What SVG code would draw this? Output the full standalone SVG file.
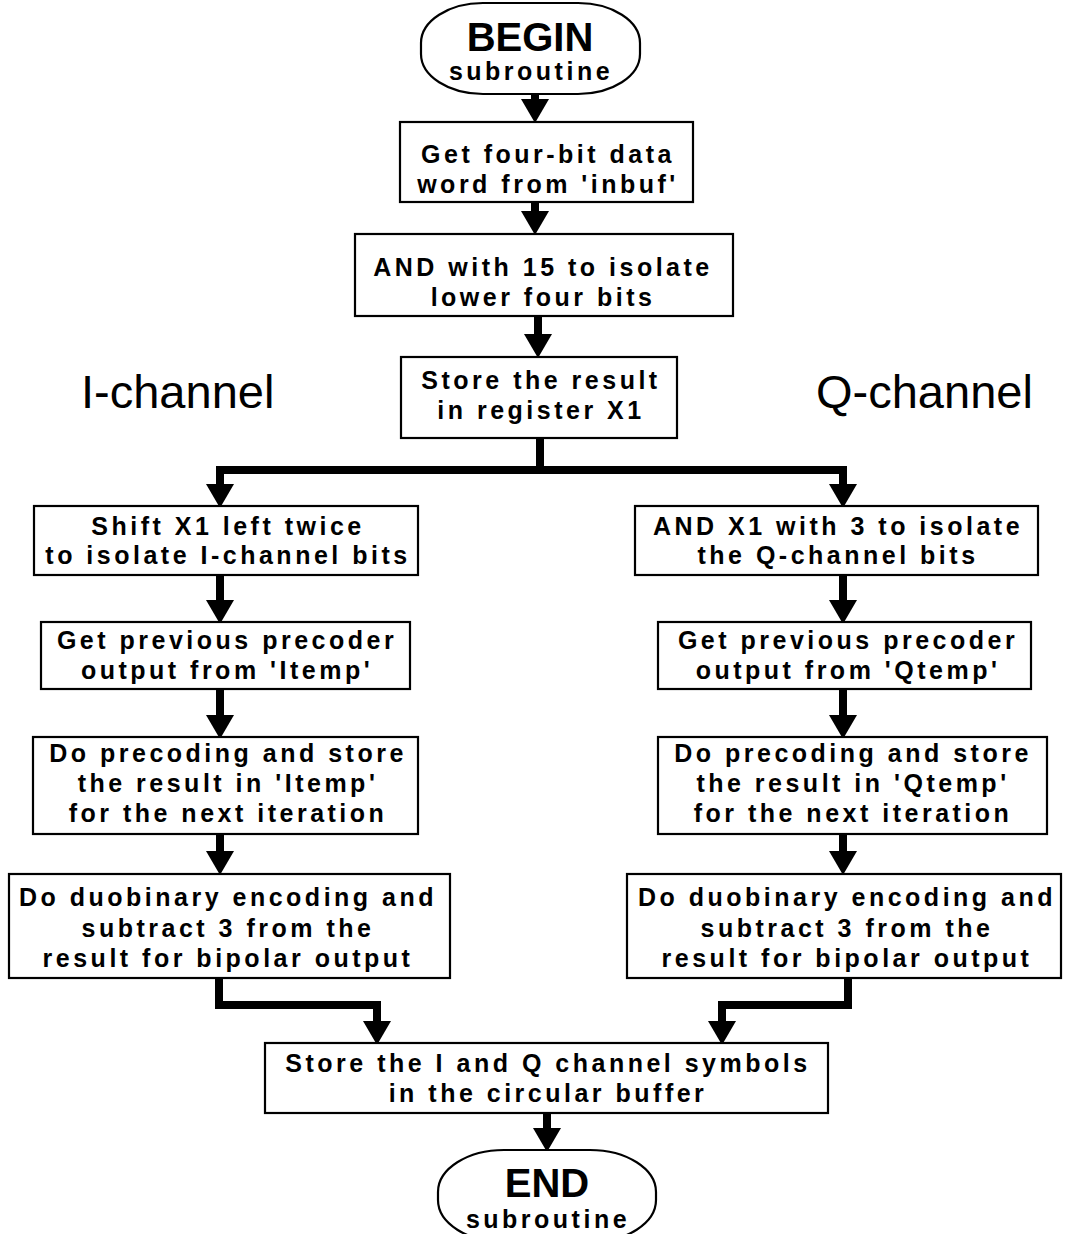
<svg xmlns="http://www.w3.org/2000/svg" width="1073" height="1234" viewBox="0 0 1073 1234">
  <style>
    .box { fill: #fff; stroke: #000; stroke-width: 2.2; }
    .term { fill: #fff; stroke: #000; stroke-width: 2.2; }
    .t { font-family: "Liberation Sans", Arial, Helvetica, sans-serif; font-weight: bold; font-size: 25px; letter-spacing: 3.5px; text-anchor: middle; fill: #000; }
    .big { font-family: "Liberation Sans", Arial, Helvetica, sans-serif; font-weight: bold; font-size: 40px; text-anchor: middle; fill: #000; }
    .chan { font-family: "Liberation Sans", Arial, Helvetica, sans-serif; font-size: 47px; fill: #000; }
    .wire { fill: none; stroke: #000; stroke-width: 8; stroke-linejoin: miter; stroke-linecap: butt; }
  </style>
  <defs>
    <marker id="head" markerUnits="userSpaceOnUse" markerWidth="24" markerHeight="28" viewBox="0 0 24 28" refX="10" refY="14" orient="auto">
      <path d="M0,0 L24,14 L0,28 Z" fill="#000"/>
    </marker>
  </defs>

  <rect width="1073" height="1234" fill="#fff"/>

  <!-- channel headings -->
  <text class="chan" x="81" y="408">I-channel</text>
  <text class="chan" x="816" y="408">Q-channel</text>

  <!-- connectors -->
  <g id="connectors">
    <path class="wire" d="M535,94 V109" marker-end="url(#head)"/>
    <path class="wire" d="M535,202 V221" marker-end="url(#head)"/>
    <path class="wire" d="M538,316 V344" marker-end="url(#head)"/>
    <path class="wire" d="M540,438 V470"/>
    <path class="wire" d="M544,470 H220 V494" marker-end="url(#head)"/>
    <path class="wire" d="M536,470 H843 V494" marker-end="url(#head)"/>
    <path class="wire" d="M220,575 V610" marker-end="url(#head)"/>
    <path class="wire" d="M220,689 V725" marker-end="url(#head)"/>
    <path class="wire" d="M220,834 V861" marker-end="url(#head)"/>
    <path class="wire" d="M843,575 V610" marker-end="url(#head)"/>
    <path class="wire" d="M843,689 V725" marker-end="url(#head)"/>
    <path class="wire" d="M843,834 V861" marker-end="url(#head)"/>
    <path class="wire" d="M219,978 V1005 H377 V1031" marker-end="url(#head)"/>
    <path class="wire" d="M848,978 V1005 H722 V1031" marker-end="url(#head)"/>
    <path class="wire" d="M547,1113 V1138" marker-end="url(#head)"/>
  </g>

  <!-- start terminal -->
  <g id="begin">
    <rect class="term" x="421" y="3" width="219" height="91" rx="62" ry="40"/>
    <text class="big" x="530" y="51">BEGIN</text>
    <text class="t" x="531" y="80">subroutine</text>
  </g>

  <g id="get-word">
    <rect class="box" x="400" y="122" width="293" height="80"/>
    <text class="t" x="548" y="163">Get four-bit data</text>
    <text class="t" x="548" y="193">word from 'inbuf'</text>
  </g>

  <g id="and-15">
    <rect class="box" x="355" y="234" width="378" height="82"/>
    <text class="t" x="543" y="276">AND with 15 to isolate</text>
    <text class="t" x="543" y="306">lower four bits</text>
  </g>

  <g id="store-x1">
    <rect class="box" x="401" y="357" width="276" height="81"/>
    <text class="t" x="541" y="389">Store the result</text>
    <text class="t" x="541" y="419">in register X1</text>
  </g>

  <!-- I branch -->
  <g id="shift-x1">
    <rect class="box" x="34" y="506" width="384" height="69"/>
    <text class="t" x="228" y="535">Shift X1 left twice</text>
    <text class="t" x="228" y="564">to isolate I-channel bits</text>
  </g>

  <g id="get-itemp">
    <rect class="box" x="41" y="622" width="369" height="67"/>
    <text class="t" x="227" y="649">Get previous precoder</text>
    <text class="t" x="227" y="679">output from 'Itemp'</text>
  </g>

  <g id="precode-i">
    <rect class="box" x="33" y="737" width="385" height="97"/>
    <text class="t" x="228" y="762">Do precoding and store</text>
    <text class="t" x="228" y="792">the result in 'Itemp'</text>
    <text class="t" x="228" y="822">for the next iteration</text>
  </g>

  <g id="duobinary-i">
    <rect class="box" x="9" y="874" width="441" height="104"/>
    <text class="t" x="228" y="906">Do duobinary encoding and</text>
    <text class="t" x="228" y="937">subtract 3 from the</text>
    <text class="t" x="228" y="967">result for bipolar output</text>
  </g>

  <!-- Q branch -->
  <g id="and-3">
    <rect class="box" x="635" y="506" width="403" height="69"/>
    <text class="t" x="838" y="535">AND X1 with 3 to isolate</text>
    <text class="t" x="838" y="564">the Q-channel bits</text>
  </g>

  <g id="get-qtemp">
    <rect class="box" x="658" y="622" width="373" height="67"/>
    <text class="t" x="848" y="649">Get previous precoder</text>
    <text class="t" x="848" y="679">output from 'Qtemp'</text>
  </g>

  <g id="precode-q">
    <rect class="box" x="658" y="737" width="389" height="97"/>
    <text class="t" x="853" y="762">Do precoding and store</text>
    <text class="t" x="853" y="792">the result in 'Qtemp'</text>
    <text class="t" x="853" y="822">for the next iteration</text>
  </g>

  <g id="duobinary-q">
    <rect class="box" x="627" y="874" width="434" height="104"/>
    <text class="t" x="847" y="906">Do duobinary encoding and</text>
    <text class="t" x="847" y="937">subtract 3 from the</text>
    <text class="t" x="847" y="967">result for bipolar output</text>
  </g>

  <!-- merge -->
  <g id="store-symbols">
    <rect class="box" x="265" y="1043" width="563" height="70"/>
    <text class="t" x="548" y="1072">Store the I and Q channel symbols</text>
    <text class="t" x="548" y="1102">in the circular buffer</text>
  </g>

  <!-- end terminal -->
  <g id="end">
    <rect class="term" x="438" y="1150" width="218" height="92" rx="66" ry="42"/>
    <text class="big" x="547" y="1197">END</text>
    <text class="t" x="548" y="1228">subroutine</text>
  </g>
</svg>
